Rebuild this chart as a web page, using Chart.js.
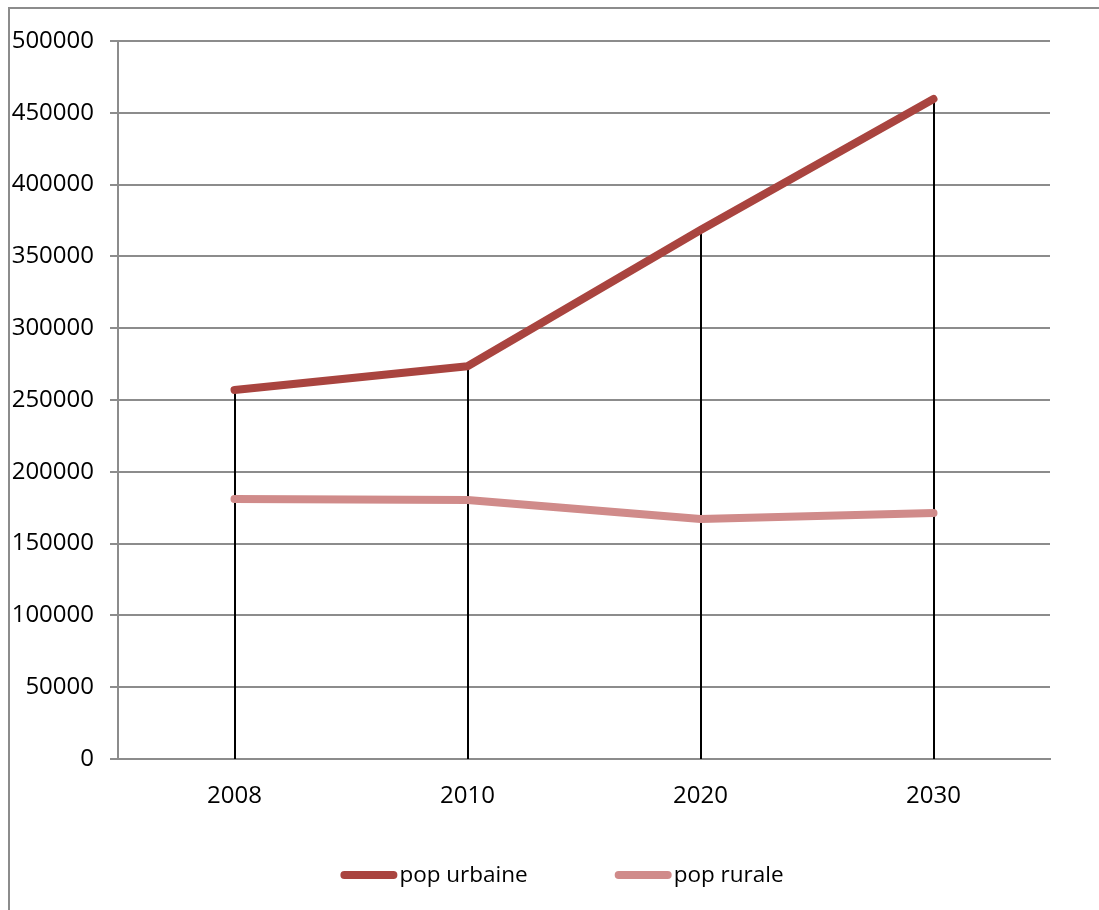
<!DOCTYPE html>
<html>
<head>
<meta charset="utf-8">
<script src="https://cdn.jsdelivr.net/npm/chart.js@4/dist/chart.umd.min.js"></script>
<style>
  html, body { margin: 0; padding: 0; background: #ffffff; }
  #wrap { width: 1099px; height: 910px; position: relative; }
</style>
</head>
<body>
<div id="wrap"><canvas id="c" width="1099" height="910"></canvas></div>
<script>
const categories = ['2008', '2010', '2020', '2030'];
const popUrbaine = [257000, 273500, 368400, 459600];
const popRurale = [181000, 180300, 167100, 171300];
const seriesNames = ['pop urbaine', 'pop rurale'];
const seriesColors = ['#A9443F', '#D08B8A'];
const yMin = 0, yMax = 500000, yStep = 50000;

const FONT = '"Open Sans", "Liberation Sans", sans-serif';

const frame = {
  id: 'frame',
  beforeDraw(chart) {
    const ctx = chart.ctx;
    ctx.save();
    ctx.fillStyle = '#ffffff';
    ctx.fillRect(0, 0, chart.width, chart.height);
    ctx.strokeStyle = '#8c8c8c';
    ctx.lineWidth = 2;
    ctx.strokeRect(9, 8, 1400, 1400);
    ctx.restore();
  }
};

const dropLines = {
  id: 'dropLines',
  beforeDatasetsDraw(chart) {
    const ctx = chart.ctx;
    const xs = chart.scales.x, ys = chart.scales.y;
    ctx.save();
    ctx.strokeStyle = '#000000';
    ctx.lineWidth = 2;
    categories.forEach((c, i) => {
      let top = -Infinity;
      chart.data.datasets.forEach(ds => { if (ds.data[i] > top) top = ds.data[i]; });
      const x = Math.round(xs.getPixelForValue(i));
      ctx.beginPath();
      ctx.moveTo(x, ys.getPixelForValue(top));
      ctx.lineTo(x, ys.getPixelForValue(0));
      ctx.stroke();
    });
    ctx.restore();
  }
};

const customLegend = {
  id: 'customLegend',
  afterDraw(chart) {
    const ctx = chart.ctx;
    ctx.save();
    ctx.font = '22.5px ' + FONT;
    ctx.textBaseline = 'middle';
    const sampleW = 57, sampleH = 8, textGap = 2, itemGap = 87;
    const widths = seriesNames.map(n => sampleW + textGap + ctx.measureText(n).width);
    const total = widths.reduce((a, b) => a + b, 0) + itemGap * (widths.length - 1);
    let x = 562 - total / 2;
    const yc = 875;
    seriesNames.forEach((n, i) => {
      ctx.strokeStyle = seriesColors[i];
      ctx.lineWidth = sampleH;
      ctx.lineCap = 'round';
      ctx.beginPath();
      ctx.moveTo(x + sampleH / 2, yc);
      ctx.lineTo(x + sampleW - sampleH / 2, yc);
      ctx.stroke();
      ctx.fillStyle = '#000000';
      ctx.fillText(n, x + sampleW + textGap, yc + 1);
      x += widths[i] + itemGap;
    });
    ctx.restore();
  }
};

new Chart(document.getElementById('c'), {
  type: 'line',
  data: {
    labels: categories,
    datasets: [
      { label: seriesNames[0], data: popUrbaine, borderColor: seriesColors[0], backgroundColor: seriesColors[0] },
      { label: seriesNames[1], data: popRurale, borderColor: seriesColors[1], backgroundColor: seriesColors[1] }
    ]
  },
  options: {
    responsive: false,
    animation: false,
    devicePixelRatio: 1,
    layout: { padding: { left: 0, top: 41, right: 49, bottom: 0 } },
    elements: {
      line: { borderWidth: 8, tension: 0, borderCapStyle: 'round', borderJoinStyle: 'round' },
      point: { radius: 0, hoverRadius: 0 }
    },
    plugins: { legend: { display: false }, tooltip: { enabled: false } },
    scales: {
      x: {
        offset: true,
        grid: { display: false, drawTicks: false },
        border: { display: true, color: '#8c8c8c', width: 2 },
        ticks: { font: { family: FONT, size: 24 }, color: '#000000', padding: 23 },
        afterFit(s) { s.height = 151; }
      },
      y: {
        min: yMin, max: yMax,
        grid: { color: '#8c8c8c', lineWidth: 2, tickLength: 8, drawTicks: true },
        border: { display: true, color: '#8c8c8c', width: 2 },
        ticks: { stepSize: yStep, font: { family: FONT, size: 24 }, color: '#000000', padding: 16,
                 callback: v => String(v) },
        afterFit(s) { s.width = 118; }
      }
    }
  },
  plugins: [frame, dropLines, customLegend]
});
</script>
</body>
</html>
